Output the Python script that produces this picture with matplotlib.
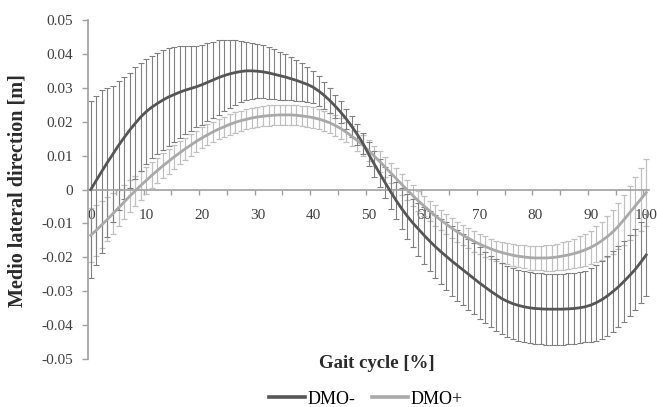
import matplotlib
matplotlib.use("Agg")
import matplotlib.pyplot as plt
import numpy as np

gait = list(range(0, 101))

dmo_minus_mean = [
    0.0000, 0.0027, 0.0054, 0.0080, 0.0105, 0.0130, 0.0153, 0.0175, 0.0195, 0.0214,
    0.0230, 0.0243, 0.0254, 0.0264, 0.0273, 0.0280, 0.0287, 0.0293, 0.0298, 0.0303,
    0.0309, 0.0316, 0.0323, 0.0330, 0.0336, 0.0341, 0.0345, 0.0348, 0.0350, 0.0350,
    0.0349, 0.0347, 0.0344, 0.0340, 0.0336, 0.0332, 0.0327, 0.0322, 0.0316, 0.0310,
    0.0302, 0.0291, 0.0278, 0.0263, 0.0246, 0.0228, 0.0208, 0.0186, 0.0162, 0.0136,
    0.0105, 0.0076, 0.0048, 0.0020, -0.0007, -0.0033, -0.0057, -0.0079, -0.0099, -0.0117,
    -0.0135, -0.0152, -0.0168, -0.0183, -0.0197, -0.0211, -0.0224, -0.0237, -0.0250, -0.0263,
    -0.0276, -0.0288, -0.0300, -0.0311, -0.0322, -0.0330, -0.0337, -0.0342, -0.0346, -0.0349,
    -0.0351, -0.0352, -0.0353, -0.0353, -0.0353, -0.0353, -0.0352, -0.0351, -0.0349, -0.0346,
    -0.0341, -0.0334, -0.0325, -0.0314, -0.0301, -0.0287, -0.0271, -0.0254, -0.0236, -0.0215,
    -0.0193,
]

dmo_minus_sd = [
    0.0260, 0.0250, 0.0240, 0.0220, 0.0200, 0.0190, 0.0180, 0.0170, 0.0165, 0.0160,
    0.0155, 0.0150, 0.0150, 0.0148, 0.0145, 0.0140, 0.0135, 0.0130, 0.0125, 0.0120,
    0.0118, 0.0115, 0.0112, 0.0110, 0.0105, 0.0100, 0.0095, 0.0090, 0.0085, 0.0082,
    0.0080, 0.0078, 0.0076, 0.0074, 0.0071, 0.0068, 0.0064, 0.0060, 0.0056, 0.0052,
    0.0048, 0.0044, 0.0040, 0.0037, 0.0034, 0.0032, 0.0030, 0.0030, 0.0030, 0.0032,
    0.0035, 0.0038, 0.0042, 0.0046, 0.0050, 0.0055, 0.0060, 0.0066, 0.0072, 0.0078,
    0.0084, 0.0089, 0.0093, 0.0097, 0.0100, 0.0102, 0.0104, 0.0105, 0.0105, 0.0105,
    0.0105, 0.0105, 0.0105, 0.0105, 0.0105, 0.0105, 0.0105, 0.0105, 0.0105, 0.0105,
    0.0105, 0.0105, 0.0105, 0.0105, 0.0105, 0.0105, 0.0105, 0.0105, 0.0105, 0.0105,
    0.0110, 0.0112, 0.0115, 0.0117, 0.0120, 0.0120, 0.0120, 0.0120, 0.0120, 0.0120,
    0.0120,
]

dmo_plus_mean = [
    -0.0135, -0.0120, -0.0104, -0.0088, -0.0071, -0.0054, -0.0037, -0.0020, -0.0004, 0.0012,
    0.0027, 0.0042, 0.0056, 0.0070, 0.0083, 0.0096, 0.0108, 0.0120, 0.0131, 0.0142,
    0.0152, 0.0161, 0.0170, 0.0178, 0.0185, 0.0192, 0.0198, 0.0203, 0.0207, 0.0211,
    0.0214, 0.0216, 0.0218, 0.0219, 0.0220, 0.0220, 0.0220, 0.0219, 0.0217, 0.0215,
    0.0212, 0.0208, 0.0203, 0.0197, 0.0189, 0.0180, 0.0169, 0.0157, 0.0144, 0.0130,
    0.0115, 0.0099, 0.0083, 0.0066, 0.0049, 0.0032, 0.0015, -0.0002, -0.0018, -0.0034,
    -0.0049, -0.0063, -0.0077, -0.0090, -0.0102, -0.0114, -0.0125, -0.0135, -0.0144, -0.0153,
    -0.0161, -0.0168, -0.0175, -0.0181, -0.0186, -0.0190, -0.0194, -0.0197, -0.0199, -0.0201,
    -0.0202, -0.0202, -0.0202, -0.0201, -0.0199, -0.0196, -0.0193, -0.0189, -0.0184, -0.0178,
    -0.0171, -0.0162, -0.0151, -0.0139, -0.0125, -0.0108, -0.0089, -0.0069, -0.0049, -0.0029,
    -0.0009,
]

dmo_plus_sd = [
    0.0080, 0.0075, 0.0070, 0.0065, 0.0060, 0.0055, 0.0050, 0.0047, 0.0044, 0.0042,
    0.0040, 0.0039, 0.0038, 0.0037, 0.0036, 0.0035, 0.0034, 0.0033, 0.0032, 0.0032,
    0.0031, 0.0031, 0.0030, 0.0030, 0.0030, 0.0030, 0.0030, 0.0030, 0.0030, 0.0030,
    0.0030, 0.0030, 0.0030, 0.0030, 0.0030, 0.0030, 0.0030, 0.0030, 0.0030, 0.0030,
    0.0030, 0.0030, 0.0030, 0.0030, 0.0030, 0.0030, 0.0030, 0.0030, 0.0030, 0.0030,
    0.0030, 0.0030, 0.0030, 0.0030, 0.0030, 0.0030, 0.0030, 0.0030, 0.0030, 0.0030,
    0.0030, 0.0030, 0.0030, 0.0030, 0.0030, 0.0030, 0.0030, 0.0030, 0.0030, 0.0030,
    0.0030, 0.0030, 0.0030, 0.0030, 0.0031, 0.0031, 0.0032, 0.0033, 0.0034, 0.0035,
    0.0035, 0.0036, 0.0037, 0.0038, 0.0039, 0.0040, 0.0042, 0.0044, 0.0046, 0.0048,
    0.0050, 0.0053, 0.0056, 0.0060, 0.0064, 0.0068, 0.0074, 0.0080, 0.0086, 0.0092,
    0.0100,
]

y_ticks = [-0.05, -0.04, -0.03, -0.02, -0.01, 0, 0.01, 0.02, 0.03, 0.04, 0.05]
y_ticklabels = ["-0.05", "-0.04", "-0.03", "-0.02", "-0.01", "0", "0.01", "0.02", "0.03", "0.04", "0.05"]
x_ticks = [0, 10, 20, 30, 40, 50, 60, 70, 80, 90, 100]
x_ticklabels = [str(v) for v in x_ticks]
series_names = ["DMO-", "DMO+"]

serif = ["Liberation Serif", "DejaVu Serif"]
plt.rcParams["font.family"] = serif

fig = plt.figure(figsize=(6.57, 4.07), dpi=100)
ax = fig.add_axes([88 / 657, 1 - 359 / 407, (649 - 88) / 657, (359 - 20) / 407])

dark_line = "#565656"
dark_err = "#808080"
light_line = "#a9a9a9"
light_err = "#c0c0c0"

ax.errorbar(gait, dmo_plus_mean, yerr=dmo_plus_sd, fmt="none", ecolor=light_err,
            elinewidth=0.9, capsize=2.2, capthick=0.9, zorder=2)
ax.errorbar(gait, dmo_minus_mean, yerr=dmo_minus_sd, fmt="none", ecolor=dark_err,
            elinewidth=0.8, capsize=2.2, capthick=0.8, zorder=2)
l1, = ax.plot(gait, dmo_minus_mean, color=dark_line, lw=2.0, zorder=4, label=series_names[0])
l2, = ax.plot(gait, dmo_plus_mean, color=light_line, lw=2.0, zorder=3, label=series_names[1])

ax.set_xlim(-0.5, 100.5)
ax.set_ylim(-0.05, 0.05)

for s in ["top", "right"]:
    ax.spines[s].set_visible(False)
ax.spines["bottom"].set_position(("data", 0))
ax.spines["bottom"].set_color("#a0a0a0")
ax.spines["left"].set_color("#a0a0a0")
ax.spines["bottom"].set_linewidth(1.2)
ax.spines["left"].set_linewidth(1.2)

ax.set_yticks(y_ticks)
ax.set_yticklabels(y_ticklabels)
ax.tick_params(axis="y", direction="out", length=4, width=1, color="#a0a0a0",
               labelsize=11, labelcolor="#404040", pad=7)

ax.set_xticks(x_ticks)
ax.set_xticklabels(x_ticklabels)
ax.set_xticks([4.5 + 5 * k for k in range(20)], minor=True)
ax.tick_params(axis="x", which="major", length=0, labelsize=11, labelcolor="#404040", pad=14)
ax.tick_params(axis="x", which="minor", direction="out", length=3.5, width=1, color="#a0a0a0")

fig.text(18 / 657, 1 - 191 / 407, "Medio lateral direction [m]", rotation=90,
         ha="center", va="center", fontsize=14.5, fontweight="bold", color="#2a2a2a")
fig.text(377 / 657, 1 - 363 / 407, "Gait cycle [%]", ha="center", va="center",
         fontsize=13.5, fontweight="bold", color="#2a2a2a")

leg = fig.legend(handles=[l1, l2], labels=series_names, loc="center",
                 bbox_to_anchor=(366 / 657, 1 - 399 / 407),
                 ncol=2, frameon=False, fontsize=13, handlelength=2.0, handletextpad=0.15,
                 columnspacing=0.9, borderaxespad=0)
for h in leg.get_lines():
    h.set_linewidth(2.6)

fig.savefig("out.png", dpi=100)
